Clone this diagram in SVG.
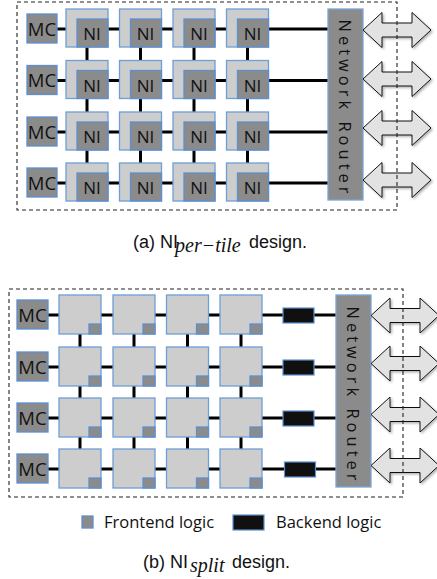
<svg xmlns="http://www.w3.org/2000/svg" xmlns:xlink="http://www.w3.org/1999/xlink" width="437" height="579" viewBox="0 0 437 579">
<style>
.tile{fill:#cdcdcd;stroke:#6c9fd6;stroke-width:1.3}
.dk{fill:#8b8b8b;stroke:#5c90d0;stroke-width:1.3}
.be{fill:#101010;stroke:#5c90d0;stroke-width:1.2}
.rt{fill:#8b8b8b;stroke:#7aa6d8;stroke-width:1.3}
.ln{stroke:#000;stroke-width:3;fill:none}
.dash{fill:none;stroke:#222;stroke-width:1.1;stroke-dasharray:4 3}
.arr{fill:#e2e2e2;stroke:#111;stroke-width:1}
.lbl{font-family:"Open Sans",sans-serif;fill:#111;text-anchor:middle}
.ni{font-size:17px}
.mc{font-size:18.5px}
.rtt{font-size:16.5px;dominant-baseline:central}
.leg{font-family:"Open Sans",sans-serif;font-size:16.5px;fill:#111}
.cap{font-family:"Liberation Sans",Arial,sans-serif;font-size:18px;fill:#111}
.sub{font-family:"Liberation Serif","Times New Roman",serif;font-style:italic;font-size:20px}
</style>
<defs>
<filter id="sh" x="-20%" y="-20%" width="150%" height="150%">
<feDropShadow dx="1.5" dy="1.5" stdDeviation="1.2" flood-color="#000" flood-opacity="0.3"/>
</filter>
<path id="dblarrow" class="arr" d="M0,0 L19,-17.5 L19,-7 L49,-7 L49,-17.5 L68,0 L49,17.5 L49,7 L19,7 L19,17.5 Z"/>
</defs>

<!-- ===== (a) per-tile ===== -->
<g id="connectors-a">
<path class="ln" d="M57,29H328M57,80.5H328M57,132H328M57,183H328"/>
<path class="ln" d="M87,29V183M140.5,29V183M194,29V183M247.5,29V183"/>
</g>
<g id="mc-a">
<rect class="dk" x="27" y="14" width="30" height="29"/><text class="lbl mc" x="42" y="35.5">MC</text>
<rect class="dk" x="27" y="65.5" width="30" height="29"/><text class="lbl mc" x="42" y="87">MC</text>
<rect class="dk" x="27" y="117" width="30" height="29"/><text class="lbl mc" x="42" y="138.5">MC</text>
<rect class="dk" x="27" y="168" width="30" height="29"/><text class="lbl mc" x="42" y="189.5">MC</text>
</g>
<g id="tiles-a">
<g id="a-r0">
<rect class="tile" x="66" y="9" width="42" height="38"/><rect class="dk" x="77" y="19" width="31" height="28"/><text class="lbl ni" x="92" y="40">NI</text>
<rect class="tile" x="119.5" y="9" width="42" height="38"/><rect class="dk" x="130.5" y="19" width="31" height="28"/><text class="lbl ni" x="145.5" y="40">NI</text>
<rect class="tile" x="173" y="9" width="42" height="38"/><rect class="dk" x="184" y="19" width="31" height="28"/><text class="lbl ni" x="199" y="40">NI</text>
<rect class="tile" x="226.5" y="9" width="42" height="38"/><rect class="dk" x="237.5" y="19" width="31" height="28"/><text class="lbl ni" x="252.5" y="40">NI</text>
</g>
<g id="a-r1">
<rect class="tile" x="66" y="60.5" width="42" height="38"/><rect class="dk" x="77" y="70.5" width="31" height="28"/><text class="lbl ni" x="92" y="91.5">NI</text>
<rect class="tile" x="119.5" y="60.5" width="42" height="38"/><rect class="dk" x="130.5" y="70.5" width="31" height="28"/><text class="lbl ni" x="145.5" y="91.5">NI</text>
<rect class="tile" x="173" y="60.5" width="42" height="38"/><rect class="dk" x="184" y="70.5" width="31" height="28"/><text class="lbl ni" x="199" y="91.5">NI</text>
<rect class="tile" x="226.5" y="60.5" width="42" height="38"/><rect class="dk" x="237.5" y="70.5" width="31" height="28"/><text class="lbl ni" x="252.5" y="91.5">NI</text>
</g>
<g id="a-r2">
<rect class="tile" x="66" y="112" width="42" height="38"/><rect class="dk" x="77" y="122" width="31" height="28"/><text class="lbl ni" x="92" y="143">NI</text>
<rect class="tile" x="119.5" y="112" width="42" height="38"/><rect class="dk" x="130.5" y="122" width="31" height="28"/><text class="lbl ni" x="145.5" y="143">NI</text>
<rect class="tile" x="173" y="112" width="42" height="38"/><rect class="dk" x="184" y="122" width="31" height="28"/><text class="lbl ni" x="199" y="143">NI</text>
<rect class="tile" x="226.5" y="112" width="42" height="38"/><rect class="dk" x="237.5" y="122" width="31" height="28"/><text class="lbl ni" x="252.5" y="143">NI</text>
</g>
<g id="a-r3">
<rect class="tile" x="66" y="163" width="42" height="38"/><rect class="dk" x="77" y="173" width="31" height="28"/><text class="lbl ni" x="92" y="194">NI</text>
<rect class="tile" x="119.5" y="163" width="42" height="38"/><rect class="dk" x="130.5" y="173" width="31" height="28"/><text class="lbl ni" x="145.5" y="194">NI</text>
<rect class="tile" x="173" y="163" width="42" height="38"/><rect class="dk" x="184" y="173" width="31" height="28"/><text class="lbl ni" x="199" y="194">NI</text>
<rect class="tile" x="226.5" y="163" width="42" height="38"/><rect class="dk" x="237.5" y="173" width="31" height="28"/><text class="lbl ni" x="252.5" y="194">NI</text>
</g>
</g>
<g id="router-a">
<rect class="rt" x="328" y="9" width="35" height="191"/>
<text class="lbl rtt" transform="translate(345.5,106.5) rotate(90)" textLength="174" lengthAdjust="spacing">Network Router</text>
</g>
<g id="links-a" filter="url(#sh)">
<use xlink:href="#dblarrow" href="#dblarrow" transform="translate(363,30)"/>
<use xlink:href="#dblarrow" href="#dblarrow" transform="translate(363,79)"/>
<use xlink:href="#dblarrow" href="#dblarrow" transform="translate(363,128)"/>
<use xlink:href="#dblarrow" href="#dblarrow" transform="translate(363,180)"/>
</g>
<rect id="boundary-a" class="dash" x="17" y="2" width="380" height="208"/>
<text id="caption-a" class="cap" y="248"><tspan x="133">(a) NI</tspan><tspan class="sub" x="175" dy="4">per−tile</tspan><tspan x="249" dy="-4">design.</tspan></text>

<!-- ===== (b) split ===== -->
<g id="connectors-b">
<path class="ln" d="M48,315H336M48,367H336M48,418H336M48,469H336"/>
<path class="ln" d="M80,315V469M134,315V469M187.5,315V469M241,315V469"/>
</g>
<g id="mc-b">
<rect class="dk" x="17" y="300" width="31" height="29"/><text class="lbl mc" x="32.5" y="321.5">MC</text>
<rect class="dk" x="17" y="352" width="31" height="29"/><text class="lbl mc" x="32.5" y="373.5">MC</text>
<rect class="dk" x="17" y="403" width="31" height="29"/><text class="lbl mc" x="32.5" y="424.5">MC</text>
<rect class="dk" x="17" y="454" width="31" height="29"/><text class="lbl mc" x="32.5" y="475.5">MC</text>
</g>
<g id="tiles-b">
<g id="b-r0">
<rect class="tile" x="59" y="295" width="42" height="39"/><rect class="dk" x="89" y="324" width="12" height="10"/>
<rect class="tile" x="113" y="295" width="42" height="39"/><rect class="dk" x="143" y="324" width="12" height="10"/>
<rect class="tile" x="166.5" y="295" width="42" height="39"/><rect class="dk" x="196.5" y="324" width="12" height="10"/>
<rect class="tile" x="220" y="295" width="42" height="39"/><rect class="dk" x="250" y="324" width="12" height="10"/>
</g>
<g id="b-r1">
<rect class="tile" x="59" y="347" width="42" height="39"/><rect class="dk" x="89" y="376" width="12" height="10"/>
<rect class="tile" x="113" y="347" width="42" height="39"/><rect class="dk" x="143" y="376" width="12" height="10"/>
<rect class="tile" x="166.5" y="347" width="42" height="39"/><rect class="dk" x="196.5" y="376" width="12" height="10"/>
<rect class="tile" x="220" y="347" width="42" height="39"/><rect class="dk" x="250" y="376" width="12" height="10"/>
</g>
<g id="b-r2">
<rect class="tile" x="59" y="398" width="42" height="39"/><rect class="dk" x="89" y="427" width="12" height="10"/>
<rect class="tile" x="113" y="398" width="42" height="39"/><rect class="dk" x="143" y="427" width="12" height="10"/>
<rect class="tile" x="166.5" y="398" width="42" height="39"/><rect class="dk" x="196.5" y="427" width="12" height="10"/>
<rect class="tile" x="220" y="398" width="42" height="39"/><rect class="dk" x="250" y="427" width="12" height="10"/>
</g>
<g id="b-r3">
<rect class="tile" x="59" y="449" width="42" height="39"/><rect class="dk" x="89" y="478" width="12" height="10"/>
<rect class="tile" x="113" y="449" width="42" height="39"/><rect class="dk" x="143" y="478" width="12" height="10"/>
<rect class="tile" x="166.5" y="449" width="42" height="39"/><rect class="dk" x="196.5" y="478" width="12" height="10"/>
<rect class="tile" x="220" y="449" width="42" height="39"/><rect class="dk" x="250" y="478" width="12" height="10"/>
</g>
</g>
<g id="backend-b">
<rect class="be" x="283" y="308" width="31" height="15"/>
<rect class="be" x="283" y="360" width="31" height="15"/>
<rect class="be" x="283" y="411" width="31" height="15"/>
<rect class="be" x="284.5" y="462" width="31" height="15"/>
</g>
<g id="router-b">
<rect class="rt" x="336" y="295" width="35" height="192"/>
<text class="lbl rtt" transform="translate(353.5,393.5) rotate(90)" textLength="174" lengthAdjust="spacing">Network Router</text>
</g>
<g id="links-b" filter="url(#sh)">
<use xlink:href="#dblarrow" href="#dblarrow" transform="translate(371,315.5)"/>
<use xlink:href="#dblarrow" href="#dblarrow" transform="translate(371,363.5)"/>
<use xlink:href="#dblarrow" href="#dblarrow" transform="translate(371,414.5)"/>
<use xlink:href="#dblarrow" href="#dblarrow" transform="translate(371,465.5)"/>
</g>
<rect id="boundary-b" class="dash" x="9" y="289" width="394" height="208"/>
<g id="legend">
<rect class="dk" x="82" y="516" width="11" height="12"/>
<text class="leg" x="104" y="528">Frontend logic</text>
<rect class="be" x="233" y="515" width="31" height="15"/>
<text class="leg" x="276" y="528">Backend logic</text>
</g>
<text id="caption-b" class="cap" y="568"><tspan x="143">(b) NI</tspan><tspan class="sub" x="190" dy="4">split</tspan><tspan x="232" dy="-4">design.</tspan></text>
</svg>
